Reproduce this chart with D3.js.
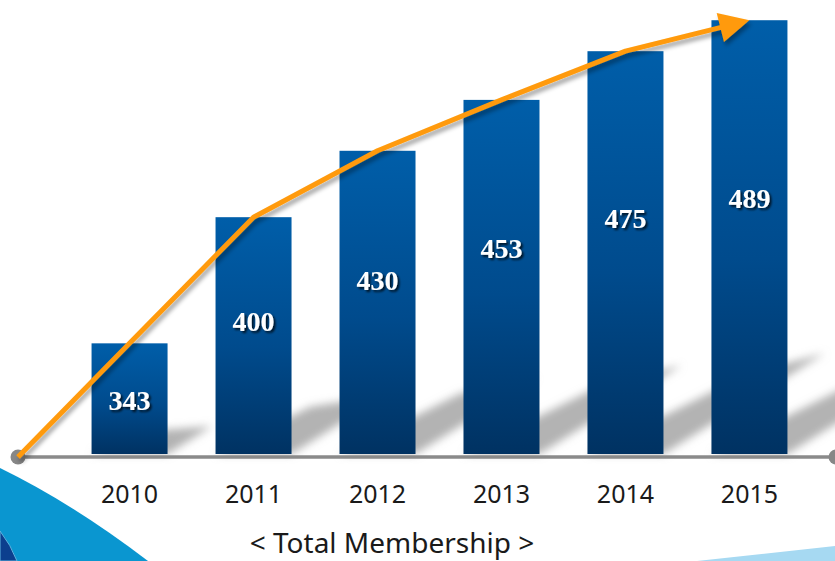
<!DOCTYPE html>
<html>
<head>
<meta charset="utf-8">
<script src="https://cdn.jsdelivr.net/npm/d3@7"></script>
<style>
  html, body { margin: 0; padding: 0; background: #ffffff; }
  svg { display: block; }
</style>
</head>
<body>
<div id="chart"></div>
<script>
// ---- data ----
const years = ["2010", "2011", "2012", "2013", "2014", "2015"];
const members = [343, 400, 430, 453, 475, 489];
const chartTitle = "< Total Membership >";

// ---- layout ----
const W = 835, H = 561;
const axisLeft = 18, axisRight = 836;

const svg = d3.select("#chart").append("svg")
  .attr("width", W).attr("height", H)
  .attr("viewBox", `0 0 ${W} ${H}`);

const defs = svg.append("defs");

const grad = defs.append("linearGradient").attr("id", "barGrad")
  .attr("x1", 0).attr("y1", 0).attr("x2", 0).attr("y2", 1);
grad.append("stop").attr("offset", "0%").attr("stop-color", "#005EA9");
grad.append("stop").attr("offset", "55%").attr("stop-color", "#004B8D");
grad.append("stop").attr("offset", "100%").attr("stop-color", "#003262");

const blur = defs.append("filter").attr("id", "softBlur")
  .attr("x", "-50%").attr("y", "-50%").attr("width", "200%").attr("height", "200%");
blur.append("feGaussianBlur").attr("stdDeviation", 4);

const lineSh = defs.append("filter").attr("id", "lineShadow")
  .attr("x", "-20%").attr("y", "-20%").attr("width", "140%").attr("height", "140%");
lineSh.append("feDropShadow").attr("dx", 2).attr("dy", 4).attr("stdDeviation", 2.2)
  .attr("flood-color", "#000").attr("flood-opacity", 0.35);

const txtSh = defs.append("filter").attr("id", "textShadow")
  .attr("x", "-20%").attr("y", "-20%").attr("width", "140%").attr("height", "140%");
txtSh.append("feDropShadow").attr("dx", 2).attr("dy", 2).attr("stdDeviation", 1)
  .attr("flood-color", "#000").attr("flood-opacity", 0.75);

// ---- background decoration ----
const bg = svg.append("g");
bg.append("path")
  .attr("d", `M0,468 Q72,503 148,${H} L0,${H} Z`)
  .attr("fill", "#0A96D0");
bg.append("path")
  .attr("d", `M0,531 Q11,545 17,${H} L0,${H} Z`)
  .attr("fill", "#0C3F8E")
  .attr("stroke", "#5FB6E0").attr("stroke-width", 1);
bg.append("path")
  .attr("d", `M697,${H} L835,546 L835,${H} Z`)
  .attr("fill", "#A6D9F2");

// ---- scales ----
const x = d3.scaleBand().domain(years).range([68, 811])
  .paddingInner(0.387).paddingOuter(0.19);
const y = d3.scaleLinear().domain([293, 490]).range([454, 18]);
const base = y.range()[0];
const bw = x.bandwidth();

const data = years.map((yr, i) => ({ year: yr, value: members[i] }));

// ---- bar shadows ----
svg.append("g").attr("filter", "url(#softBlur)")
  .selectAll("path").data(data).join("path")
  .attr("d", d => {
    const x0 = x(d.year), x1 = x0 + bw;
    const hb = base - y(d.value);
    const dx = 0.4 * hb, dy = 0.25 * hb;
    return `M${x0},${base} L${x1},${base} L${x1 + dx},${base - dy} L${x0 + dx},${base - dy * 0.8} Z`;
  })
  .attr("fill", "#ababab")
  .attr("opacity", 0.9);

// ---- bars ----
svg.append("g").selectAll("rect").data(data).join("rect")
  .attr("x", d => x(d.year))
  .attr("y", d => y(d.value))
  .attr("width", bw)
  .attr("height", d => base - y(d.value))
  .attr("fill", "url(#barGrad)");

// ---- axis line ----
const axisY = base + 3;
svg.append("line")
  .attr("x1", axisLeft).attr("x2", axisRight)
  .attr("y1", axisY).attr("y2", axisY)
  .attr("stroke", "#8A8A8A").attr("stroke-width", 3.5);
svg.append("g").selectAll("circle").data([axisLeft, axisRight]).join("circle")
  .attr("cx", d => d).attr("cy", axisY).attr("r", 7.5)
  .attr("fill", "#878787");

// ---- year labels ----
svg.append("g").selectAll("text").data(data).join("text")
  .attr("x", d => x(d.year) + bw / 2)
  .attr("y", 503)
  .attr("text-anchor", "middle")
  .attr("font-family", "'Noto Sans', 'Open Sans', sans-serif")
  .attr("font-size", 25)
  .attr("fill", "#1a1a1a")
  .text(d => d.year);

// ---- value labels ----
svg.append("g").selectAll("text").data(data).join("text")
  .attr("x", d => x(d.year) + bw / 2)
  .attr("y", d => y(d.value) + 0.375 * (base - y(d.value)) + 25.5)
  .attr("text-anchor", "middle")
  .attr("font-family", "'Liberation Serif', 'Times New Roman', serif")
  .attr("font-weight", "bold")
  .attr("font-size", 28)
  .attr("fill", "#ffffff")
  .attr("filter", "url(#textShadow)")
  .text(d => d.value);

// ---- trend arrow ----
const pts = [[axisLeft, axisY]].concat(data.map(d => [x(d.year) + bw / 2, y(d.value)]));
const tip = pts[pts.length - 1];
const prev = pts[pts.length - 2];
const len = Math.hypot(tip[0] - prev[0], tip[1] - prev[1]);
const ux = (tip[0] - prev[0]) / len, uy = (tip[1] - prev[1]) / len;
const headL = 30, headW = 15;
const linePts = pts.slice(0, -1).concat([[tip[0] - ux * 20, tip[1] - uy * 20]]);

const arrow = svg.append("g").attr("filter", "url(#lineShadow)");
arrow.append("path")
  .attr("d", d3.line()(linePts))
  .attr("fill", "none")
  .attr("stroke", "#FF9A0A")
  .attr("stroke-width", 5)
  .attr("stroke-linejoin", "round");
const bx = tip[0] - ux * headL, by = tip[1] - uy * headL;
arrow.append("path")
  .attr("d", `M${tip[0]},${tip[1]} L${bx - uy * headW},${by + ux * headW} L${bx + uy * headW},${by - ux * headW} Z`)
  .attr("fill", "#FF9A0A");

// ---- title ----
svg.append("text")
  .attr("x", 392).attr("y", 553)
  .attr("text-anchor", "middle")
  .attr("font-family", "'Noto Sans', 'Open Sans', sans-serif")
  .attr("font-size", 28)
  .attr("fill", "#1a1a1a")
  .text(chartTitle);
</script>
</body>
</html>
